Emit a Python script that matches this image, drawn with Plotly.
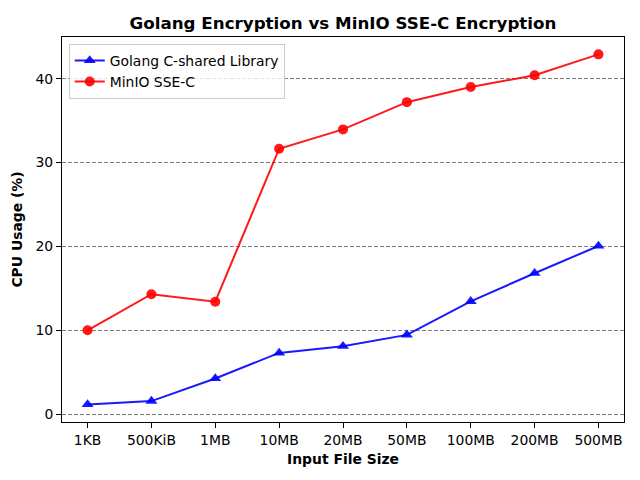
import plotly.graph_objects as go

categories = ["1KB", "500KiB", "1MB", "10MB", "20MB", "50MB", "100MB", "200MB", "500MB"]
golang_cpu = [1.15, 1.55, 4.25, 7.3, 8.1, 9.45, 13.45, 16.8, 20.05]
minio_cpu = [10.0, 14.3, 13.4, 31.65, 33.95, 37.2, 39.0, 40.4, 42.9]
y_ticks = [0, 10, 20, 30, 40]

font = "DejaVu Sans"
fig = go.Figure()
fig.add_trace(go.Scatter(
    x=list(range(len(categories))), y=golang_cpu, mode="lines+markers",
    name="Golang C-shared Library",
    line=dict(color="rgba(0,0,255,0.9)", width=2),
    marker=dict(symbol="triangle-up", size=10.5, color="rgba(0,0,255,0.9)"),
))
fig.add_trace(go.Scatter(
    x=list(range(len(categories))), y=minio_cpu, mode="lines+markers",
    name="MinIO SSE-C",
    line=dict(color="rgba(255,0,0,0.9)", width=2),
    marker=dict(symbol="circle", size=10, color="rgba(255,0,0,0.9)"),
))

fig.update_layout(
    width=640, height=480,
    margin=dict(l=62, r=16, t=37, b=58),
    paper_bgcolor="white", plot_bgcolor="white",
    font=dict(family=font, size=13.9, color="black"),
    title=dict(text="<b>Golang Encryption vs MinIO SSE-C Encryption</b>",
               x=0.5, xref="paper", xanchor="center",
               y=1 - 23 / 480, yref="container", yanchor="middle",
               font=dict(size=16.7, family=font, color="black")),
    showlegend=True,
    legend=dict(x=0.012, y=0.982, xanchor="left", yanchor="top",
                bgcolor="rgba(255,255,255,0.8)", bordercolor="#cccccc", borderwidth=1,
                font=dict(size=13.9, family=font), itemwidth=30,
                tracegroupgap=0),
    xaxis=dict(
        tickmode="array", tickvals=list(range(len(categories))), ticktext=categories,
        range=[-0.4, 8.4], showgrid=False, zeroline=False,
        showline=True, linecolor="black", linewidth=1, mirror=True,
        ticks="outside", ticklen=5, tickcolor="black",
        title=dict(text="<b>Input File Size</b>", font=dict(size=13.9), standoff=7),
    ),
    yaxis=dict(
        tickmode="array", tickvals=y_ticks,
        range=[-0.94, 44.97], showgrid=True, gridcolor="gray", griddash="4px,2px", gridwidth=0.8,
        zeroline=False,
        showline=True, linecolor="black", linewidth=1, mirror=True,
        ticks="outside", ticklen=5, tickcolor="black",
        title=dict(text="<b>CPU Usage (%)</b>", font=dict(size=13.9), standoff=9),
    ),
)

fig.write_html("out.html")
